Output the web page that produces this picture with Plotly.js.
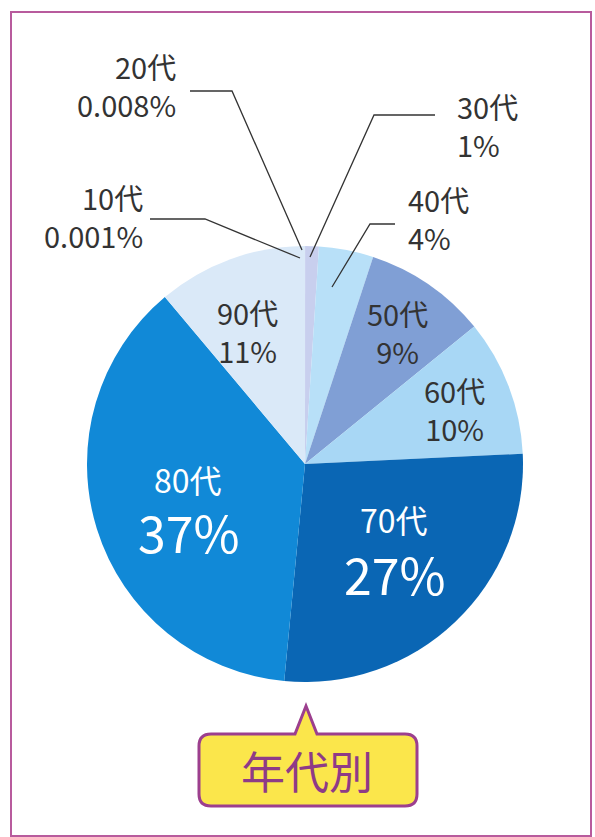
<!DOCTYPE html>
<html><head><meta charset="utf-8">
<script src="https://cdn.plot.ly/plotly-3.0.1.min.js"></script>
<style>html,body{margin:0;padding:0;background:#fff}#chart{width:595px;height:837px}</style>
</head><body><div id="chart"></div>
<script>
// ---- data ----
const categories = ['10代','20代','30代','40代','50代','60代','70代','80代','90代'];
const values = [0.001, 0.008, 1, 4, 9, 10, 27, 37, 11];
const percentLabels = ['0.001%','0.008%','1%','4%','9%','10%','27%','37%','11%'];
const sliceColors = ['#9cc6ec','#8dbbe8','#c8cfee','#b8e0f8','#809fd5','#a8d7f5','#0a66b4','#1189d7','#dae9f8'];
const chartTitle = '年代別';

// ---- layout helpers (pixel -> paper) ----
const W = 595, H = 837;
const px = x => x / W, py = y => 1 - y / H;
const FONT = '"Noto Sans CJK JP", "Noto Sans", sans-serif';

// two-line labels: [x, yMid, xanchor, size, color]
const labelLayout = {
  '10代': {both:[145,216,'right',29,'#333'], line:[[150,219],[205,219],[300,258]]},
  '20代': {both:[178,85,'right',29,'#333'],  line:[[190,91],[232,91],[302,250]]},
  '30代': {both:[455,125,'left',29,'#333'],  line:[[435,115],[374,115],[310,257]]},
  '40代': {both:[406,218,'left',29,'#333'],  line:[[395,224],[370,224],[332,287]]},
  '50代': {both:[397,332,'center',29,'#333']},
  '60代': {both:[455,409,'center',29,'#333']},
  '70代': {name:[394,519,'center',32,'#fff'], pct:[395,573,'center',50,'#fff']},
  '80代': {name:[188,479,'center',32,'#fff'], pct:[189,531,'center',50,'#fff']},
  '90代': {both:[247,331,'center',29,'#333']}
};

const annotations = [];
const shapes = [];
function addText(txt, p) {
  annotations.push({
    xref:'paper', yref:'paper', x:px(p[0]), y:py(p[1]),
    xanchor:p[2], yanchor:'middle', align:p[2] === 'center' ? 'center' : p[2],
    showarrow:false, text:txt,
    font:{family:FONT, size:p[3], color:p[4]}
  });
}
categories.forEach((c, i) => {
  const L = labelLayout[c];
  if (L.both) addText(c + '<br>' + percentLabels[i], L.both);
  else { addText(c, L.name); addText(percentLabels[i], L.pct); }
  if (L.line) {
    const d = 'M' + L.line.map(q => px(q[0]) + ',' + py(q[1])).join(' L');
    shapes.push({type:'path', xref:'paper', yref:'paper', path:d,
      line:{color:'#333', width:1.3}});
  }
});

// frame
shapes.push({type:'rect', xref:'paper', yref:'paper',
  x0:px(11), y0:py(836), x1:px(591), y1:py(12),
  line:{color:'#b85b9d', width:2}, fillcolor:'rgba(0,0,0,0)'});

// callout bubble
(function(){
  const x0=199, x1=417, y0=734, y1=806, r=12;
  const pts = [
    ['M',x0+r,y0],['L',295,y0],['L',306,706],['L',317,y0],['L',x1-r,y0],
    ['Q',x1,y0,x1,y0+r],['L',x1,y1-r],['Q',x1,y1,x1-r,y1],['L',x0+r,y1],
    ['Q',x0,y1,x0,y1-r],['L',x0,y0+r],['Q',x0,y0,x0+r,y0]
  ];
  let d = '';
  pts.forEach(p => {
    d += p[0];
    const coords = [];
    for (let k = 1; k < p.length; k += 2) coords.push(px(p[k]) + ',' + py(p[k+1]));
    d += coords.join(' ') + ' ';
  });
  d += 'Z';
  shapes.push({type:'path', xref:'paper', yref:'paper', path:d,
    fillcolor:'#fbe64b', line:{color:'#9c3f8e', width:3}});
})();

annotations.push({xref:'paper', yref:'paper', x:px(307), y:py(770),
  xanchor:'center', yanchor:'middle', showarrow:false, text:chartTitle,
  font:{family:FONT, size:44, color:'#8e3b87'}});

const trace = {
  type:'pie', labels:categories, values:values, sort:false,
  direction:'clockwise', rotation:0, textinfo:'none', hoverinfo:'skip',
  marker:{colors:sliceColors, line:{width:0}},
  domain:{x:[px(87), px(523)], y:[py(682), py(246)]},
  showlegend:false
};

Plotly.newPlot('chart', [trace], {
  width:W, height:H, margin:{l:0,r:0,t:0,b:0},
  paper_bgcolor:'#fff', showlegend:false,
  shapes:shapes, annotations:annotations
}, {staticPlot:true});
</script></body></html>
